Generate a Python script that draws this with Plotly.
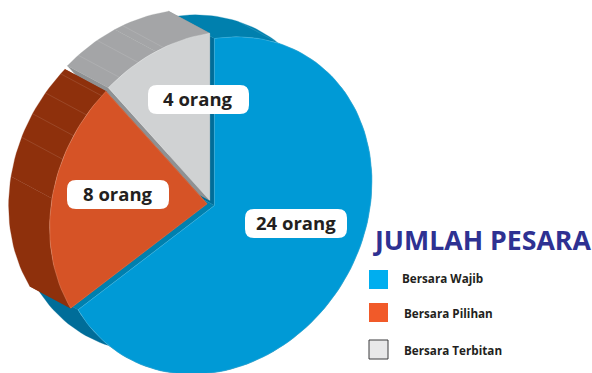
import math
import plotly.graph_objects as go

# ---- data ----
categories = ["Bersara Wajib", "Bersara Pilihan", "Bersara Terbitan"]
values = [24, 8, 4]
unit = "orang"
title_text = "JUMLAH PESARA"

# ---- styles ----
face_colors = ["#009ad6", "#d65326", "#d0d2d3"]
face_edges = ["#45b4de", "#e08a68", "#dfe0e1"]
legend_colors = ["#00aeef", "#f15a29", "#e8e8e9"]
arc_colors_a = ["#0080ae", "#8e300c", "#a4a5a7"]
arc_colors_b = ["#006d99", "#8e300c", "#a4a5a7"]
edge_colors = ["#006d99", "#8e300c", "#8f9193"]
strip_colors_end = ["#0080ae", "#8e300c", "#8f9193"]
FONT = "Open Sans"

# ---- projection of the tilted pie onto the page ----
CX, CY = 211.0, 204.0
RX, SKEW, RY = 157.5, -24.0, 167.0
DEPTH = (-41.0, -22.0)
PULL = 0.025
seams = {0: [24.5], 1: [293.5, 302, 310, 318], 2: [325, 333, 343]}


def project(theta_deg, r=1.0):
    t = math.radians(theta_deg)
    s, c = math.sin(t), math.cos(t)
    return CX + RX * s * r, CY + (SKEW * s - RY * c) * r


total = sum(values)
spans = []
a = 0.0
for v in values:
    spans.append((a, a + 360.0 * v / total))
    a = spans[-1][1]


def offset(i):
    t0, t1 = spans[i]
    x, y = project((t0 + t1) / 2, PULL)
    return x - CX, y - CY


def rim(i, t0, t1, shift=(0, 0)):
    ox, oy = offset(i)
    n = max(2, int(abs(t1 - t0) / 2))
    pts = []
    for k in range(n + 1):
        x, y = project(t0 + (t1 - t0) * k / n)
        pts.append((x + ox + shift[0], y + oy + shift[1]))
    return pts


def apex(i, shift=(0, 0)):
    ox, oy = offset(i)
    return CX + ox + shift[0], CY + oy + shift[1]


def poly(pts, color, edge=None, width=0.3):
    xs = [p[0] for p in pts] + [pts[0][0]]
    ys = [p[1] for p in pts] + [pts[0][1]]
    return go.Scatter(x=xs, y=ys, mode="lines", fill="toself", fillcolor=color,
                      line=dict(width=width, color=edge or color), hoverinfo="skip", showlegend=False)


fig = go.Figure()

for i in [0, 2, 1]:  # back walls first: blue, grey, orange
    t0, t1 = spans[i]
    tm = (t0 + t1) / 2
    # radial walls
    for t, col in ((t0, edge_colors[i]), (t1, strip_colors_end[i])):
        r_pt = rim(i, t, t)[0]
        fig.add_trace(poly([apex(i), r_pt,
                            (r_pt[0] + DEPTH[0], r_pt[1] + DEPTH[1]), apex(i, DEPTH)], col))
    # outer walls
    for (ta, tb, col) in ((t0, tm, arc_colors_a[i]), (tm, t1, arc_colors_b[i])):
        fig.add_trace(poly(rim(i, ta, tb) + rim(i, ta, tb, DEPTH)[::-1], col))
    # seams on the outer wall
    for s in seams[i]:
        p = rim(i, s, s)[0]
        fig.add_trace(go.Scatter(x=[p[0], p[0] + DEPTH[0]], y=[p[1], p[1] + DEPTH[1]], mode="lines",
                                 line=dict(width=0.5, color="rgba(255,255,255,0.22)"),
                                 hoverinfo="skip", showlegend=False))

# top faces
for i in range(len(values)):
    t0, t1 = spans[i]
    fig.add_trace(poly([apex(i)] + rim(i, t0, t1), face_colors[i], face_edges[i], 0.5))

shapes, annotations = [], []


def round_rect(x0, y0, x1, y1, r):
    return (f"M{x0 + r},{y0} L{x1 - r},{y0} Q{x1},{y0} {x1},{y0 + r} L{x1},{y1 - r} Q{x1},{y1} {x1 - r},{y1} "
            f"L{x0 + r},{y1} Q{x0},{y1} {x0},{y1 - r} L{x0},{y0 + r} Q{x0},{y0} {x0 + r},{y0} Z")


label_boxes = [(245, 209, 347, 238), (67, 180, 169, 209), (148, 85, 249, 114)]
for v, (x0, y0, x1, y1) in zip(values, label_boxes):
    shapes.append(dict(type="path", path=round_rect(x0, y0, x1, y1, 9), xref="x", yref="y",
                       fillcolor="white", line=dict(width=0)))
    annotations.append(dict(x=(x0 + x1) / 2 - 0.5, y=(y0 + y1) / 2 - 1.5, xref="x", yref="y",
                            text=f"<b>{v} {unit}</b>",
                            showarrow=False, font=dict(family=FONT, size=18.5, color="#231f20")))

annotations.append(dict(x=371, y=239.5, xref="x", yref="y", xanchor="left", text=f"<b>{title_text}</b>",
                        showarrow=False, font=dict(family=FONT, size=26.7, color="#2e3192")))

swatch_y = [270, 303, 340]
legend_text_x = [400, 402, 402]
legend_text_y = [277.5, 313, 350]
for cat, col, y, tx, ty in zip(categories, legend_colors, swatch_y, legend_text_x, legend_text_y):
    line = dict(width=1, color="#3a3a3c") if col == legend_colors[2] else dict(width=0)
    shapes.append(dict(type="rect", x0=369, x1=388, y0=y, y1=y + 19, xref="x", yref="y",
                       fillcolor=col, line=line))
    annotations.append(dict(x=tx, y=ty, xref="x", yref="y", xanchor="left", text=f"<b>{cat}</b>",
                            showarrow=False, font=dict(family=FONT, size=11.7, color="#231f20")))

fig.update_layout(
    width=592, height=373, margin=dict(l=0, r=0, t=0, b=0),
    paper_bgcolor="white", plot_bgcolor="white", showlegend=False,
    xaxis=dict(range=[0, 592], visible=False, fixedrange=True),
    yaxis=dict(range=[373, 0], visible=False, fixedrange=True),
    shapes=shapes, annotations=annotations,
)
fig.write_html("out.html", config={"displayModeBar": False},
               post_script="document.body.style.margin='0';document.body.style.overflow='hidden';")
